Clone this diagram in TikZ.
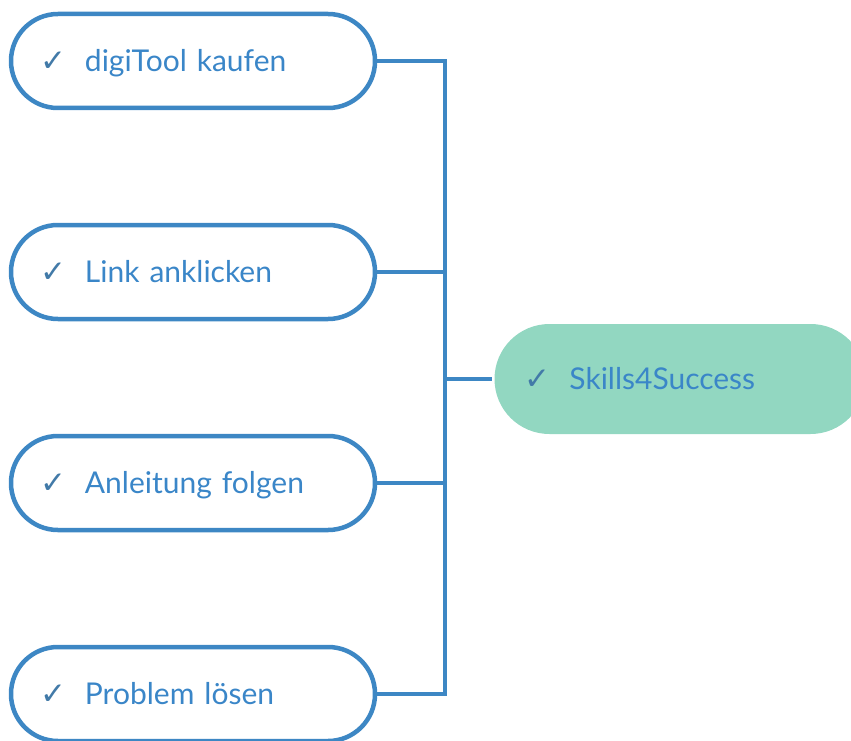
\documentclass[tikz,border=0pt]{standalone}
\usepackage{fontspec}
\setmainfont{Lato}
\newfontfamily\symfont{DejaVu Sans}
\usepackage{tikz}
\usetikzlibrary{positioning}
\definecolor{pillblue}{RGB}{61,135,196}
\definecolor{textblue}{RGB}{58,134,200}
\definecolor{checkblue}{RGB}{66,122,168}
\definecolor{pillgreen}{RGB}{146,215,193}
\newcommand*{\chk}{{\symfont\color{checkblue}\fontsize{31}{31}\selectfont ✓}\hspace{19pt}}

\begin{document}
\begin{tikzpicture}[x=1pt,y=-1pt,node distance=211pt,on grid,
    pill/.style={draw=pillblue,line width=4.5pt,fill=white,rectangle,rounded corners=46.9pt,
      minimum width=364pt,minimum height=94pt,text width=306pt,inner xsep=29pt,align=left,
      text height=24pt,text depth=3pt,
      text=textblue,font=\fontsize{30}{30}\selectfont},
    goal/.style={pill,draw=none,fill=pillgreen,rounded corners=54.9pt,minimum width=371pt,
      minimum height=110pt,text width=311pt,inner xsep=30pt},
    link/.style={draw=pillblue,line width=4.5pt}]
    \useasboundingbox (0,0) rectangle (851,741);
    \node[pill] (buy) at (193,61) {\chk digiTool kaufen};
    \node[pill] (click) [below = of buy] {\chk Link anklicken};
    \node[pill] (guide) [below = of click] {\chk Anleitung folgen};
    \node[pill] (solve) [below = of guide] {\chk Problem lösen};
    \node[goal] (skills) at (680,379) {\chk Skills4Success};
    \coordinate (bus) at (445,379);
    \draw[link] (buy.east) -| (bus) -- (skills.west);
    \draw[link] (solve.east) -| (bus);
    \draw[link] (click.east) -- (click.east -| bus);
    \draw[link] (guide.east) -- (guide.east -| bus);
\end{tikzpicture}
\end{document}
